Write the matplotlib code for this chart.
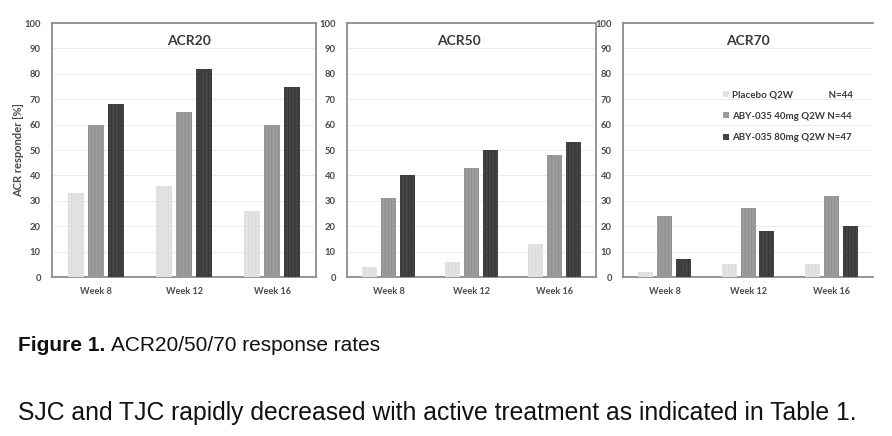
import matplotlib
matplotlib.use("Agg")
import matplotlib.pyplot as plt
from matplotlib.patches import Patch
import numpy as np

weeks = ["Week 8", "Week 12", "Week 16"]
panels = ["ACR20", "ACR50", "ACR70"]
series_names = ["Placebo Q2W", "ABY-035 40mg Q2W", "ABY-035 80mg Q2W"]
series_n = ["N=44", "N=44", "N=47"]

acr20 = {"placebo": [33, 36, 26], "40mg": [60, 65, 60], "80mg": [68, 82, 75]}
acr50 = {"placebo": [4, 6, 13], "40mg": [31, 43, 48], "80mg": [40, 50, 53]}
acr70 = {"placebo": [2, 5, 5], "40mg": [24, 27, 32], "80mg": [7, 18, 20]}
panel_data = [acr20, acr50, acr70]
series_keys = ["placebo", "40mg", "80mg"]
yticks = [0, 10, 20, 30, 40, 50, 60, 70, 80, 90, 100]

face = ["#e3e3e3", "#9b9b9b", "#434343"]
hatchc = ["#d6d6d6", "#8a8a8a", "#2e2e2e"]

plt.rcParams["hatch.linewidth"] = 0.4
chart_font = ["Lato", "DejaVu Sans"]
cap_font = ["Liberation Sans", "DejaVu Sans"]

fig = plt.figure(figsize=(8.92, 4.36), dpi=100)
W, H = 892, 436
boxes = [(52, 316), (347, 596), (623, 873)]
top, bot = 23, 277
title_x = [0.52, 0.45, 0.50]

x = np.arange(len(weeks))
bw = 0.18
off = 0.225

for i, (l, r) in enumerate(boxes):
    ax = fig.add_axes([l / W, 1 - bot / H, (r - l) / W, (bot - top) / H])
    d = panel_data[i]
    for k, key in enumerate(series_keys):
        ax.bar(x + (k - 1) * off, d[key], width=bw, color=face[k],
               edgecolor=hatchc[k], linewidth=0, hatch="|||||", zorder=3)
    ax.set_xlim(-0.5, 2.5)
    ax.set_ylim(0, 100)
    ax.set_yticks(yticks)
    ax.set_yticklabels([str(t) for t in yticks], fontsize=6.8,
                       fontweight="bold", color="#4a4a4a", family=chart_font)
    ax.set_xticks(x)
    ax.set_xticklabels(weeks, fontsize=6.6, fontweight="bold",
                       color="#4a4a4a", family=chart_font)
    ax.tick_params(axis="both", length=0)
    ax.tick_params(axis="y", pad=8)
    ax.tick_params(axis="x", pad=7)
    for t in yticks[1:-1]:
        ax.axhline(t, color="#ebebeb", lw=0.7, zorder=1)
    for s in ax.spines.values():
        s.set_color("#8e8e8e")
        s.set_linewidth(1.3)
    if i == 2:
        ax.spines["right"].set_visible(False)
    ax.text(title_x[i], 93, panels[i], transform=ax.get_yaxis_transform(),
            ha="center", va="center", fontsize=10, fontweight="bold",
            color="#3a3a3a", family=chart_font)
    if i == 0:
        ax.set_ylabel("ACR responder [%]", fontsize=8, fontweight="bold",
                      color="#4a4a4a", family=chart_font, labelpad=0.5)
    if i == 2:
        renderer = fig.canvas.get_renderer()
        def tw(s):
            t = fig.text(0, 0, s, fontsize=7, fontweight="bold", family=chart_font)
            w = t.get_window_extent(renderer).width
            t.remove()
            return w
        target = tw(series_names[1] + " ")
        labels = []
        for name, n in zip(series_names, series_n):
            s = name + " "
            while tw(s) < target - 1:
                s += " "
            labels.append(s + n)
        handles = [Patch(facecolor=face[k], edgecolor="none") for k in range(3)]
        leg = ax.legend(handles, labels, loc="upper left",
                        bbox_to_anchor=(0.365, 0.77), frameon=False,
                        handlelength=0.6, handleheight=0.6, handletextpad=0.3,
                        labelspacing=1.3,
                        prop={"family": chart_font, "size": 7, "weight": "bold"})
        for t in leg.get_texts():
            t.set_color("#3a3a3a")

# Captions
renderer = fig.canvas.get_renderer()
t1 = fig.text(18 / W, 1 - 351 / H, "Figure 1.", fontsize=15, fontweight="bold",
              family=cap_font, va="baseline", ha="left", color="#111111")
bb = t1.get_window_extent(renderer)
fig.text((bb.x1 + 6) / W, 1 - 351 / H, "ACR20/50/70 response rates", fontsize=15,
         family=cap_font, va="baseline", ha="left", color="#111111")
fig.text(18 / W, 1 - 420 / H,
         "SJC and TJC rapidly decreased with active treatment as indicated in Table 1.",
         fontsize=17.8, family=cap_font, va="baseline", ha="left", color="#111111")

fig.savefig("out.png", dpi=100, facecolor="white")
